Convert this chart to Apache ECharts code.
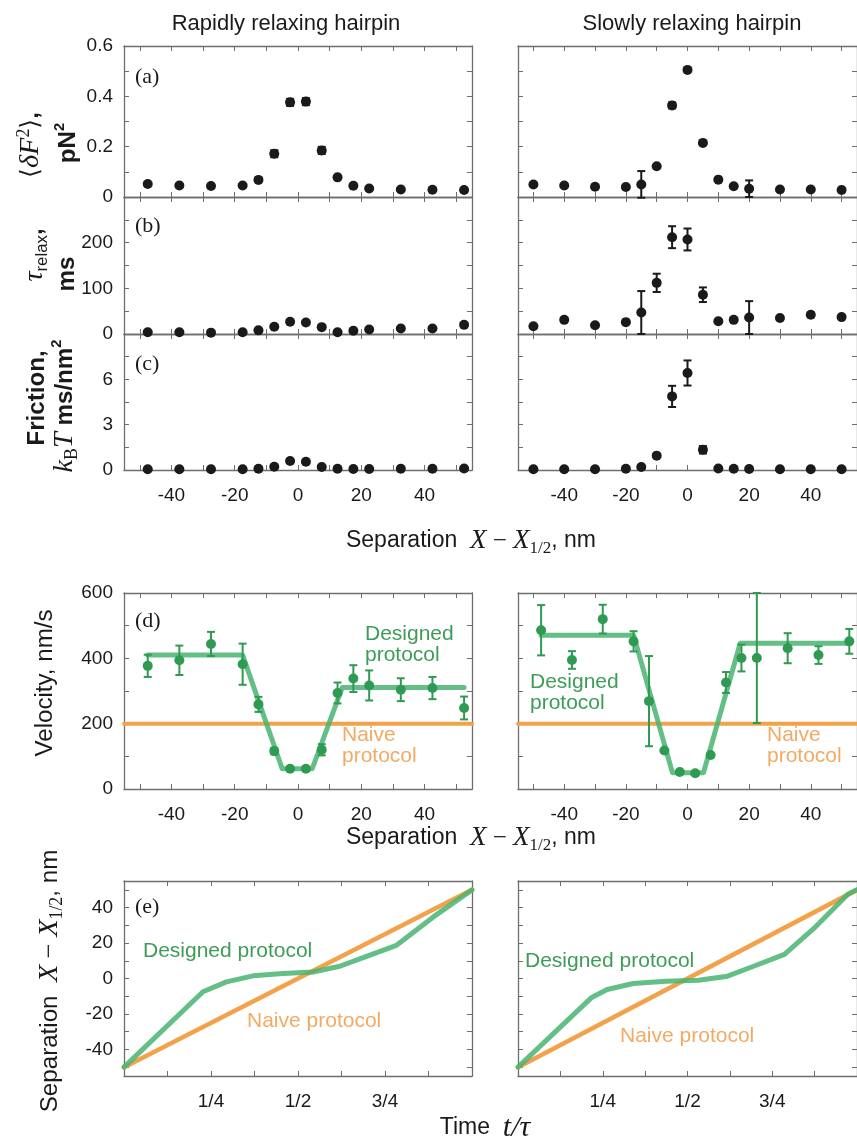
<!DOCTYPE html>
<html>
<head>
<meta charset="utf-8">
<script src="https://cdn.jsdelivr.net/npm/echarts@6.0.0/dist/echarts.min.js"></script>
<style>
  html, body { margin: 0; padding: 0; background: #fff; }
  #chart { width: 857px; height: 1143px; }
</style>
</head>
<body>
<div id="chart"></div>
<script>
// separation positions (nm)
const sepRapid = [-47.5, -37.5, -27.5, -17.5, -12.5, -7.5, -2.5, 2.5, 7.5, 12.5, 17.5, 22.5, 32.5, 42.5, 52.5];
const sepSlow = [-50, -40, -30, -20, -15, -10, -5, 0, 5, 10, 15, 20, 30, 40, 50];
const sepVelocity = [-47.5, -37.5, -27.5, -17.5, -12.5, -7.5, -2.5, 2.5, 7.5, 12.5, 17.5, 22.5, 32.5, 42.5, 52.5];

// (a) force variance, pN^2
const forceRapid = [0.052, 0.046, 0.044, 0.046, 0.068, 0.172, 0.376, 0.379, 0.185, 0.078, 0.045, 0.034, 0.030, 0.029, 0.028];
const forceRapidErr = [0, 0, 0, 0, 0, 0.014, 0.014, 0.014, 0.014, 0, 0, 0, 0, 0, 0];
const forceSlow = [0.050, 0.046, 0.041, 0.040, 0.050, 0.122, 0.364, 0.505, 0.215, 0.069, 0.043, 0.033, 0.030, 0.030, 0.028];
const forceSlowErr = [0, 0, 0, 0, 0.053, 0, 0.012, 0, 0, 0, 0, 0.033, 0, 0, 0];

// (b) relaxation time, ms
const tauRapid = [4, 4, 3, 4, 8, 16, 27, 25, 15, 4, 7, 10, 12, 12, 20];
const tauSlow = [17, 31, 19, 26, 47, 112, 212, 207, 86, 28, 31, 36, 35, 42, 37];
const tauSlowErr = [0, 0, 0, 0, 47, 20, 24, 24, 16, 0, 0, 36, 0, 0, 0];

// (c) friction, kBT ms/nm^2
const frictionRapid = [0.05, 0.05, 0.05, 0.05, 0.08, 0.22, 0.6, 0.55, 0.2, 0.08, 0.07, 0.07, 0.08, 0.08, 0.1];
const frictionSlow = [0.05, 0.05, 0.05, 0.08, 0.2, 0.95, 4.87, 6.42, 1.34, 0.1, 0.08, 0.07, 0.05, 0.05, 0.05];
const frictionSlowErr = [0, 0, 0, 0, 0, 0, 0.7, 0.83, 0.25, 0, 0, 0, 0, 0, 0];

// (d) velocity, nm/s
const velRapid = [377, 394, 444, 382, 259, 116, 62, 62, 120, 294, 338, 317, 304, 309, 248];
const velRapidErr = [34, 45, 37, 63, 23, 10, 0, 0, 17, 32, 41, 46, 35, 34, 35];
const velSlow = [486, 395, 520, 452, 269, 118, 52, 48, 104, 326, 401, 401, 431, 410, 452];
const velSlowErr = [77, 27, 44, 31, 138, 0, 0, 0, 0, 32, 41, 199, 46, 27, 38];
const velFitRapid = [[-47.5, 410], [-17.5, 410], [-5, 62], [4.5, 62], [14, 311], [52.5, 311]];
const velFitSlow = [[-47.5, 471], [-17.5, 471], [-4.9, 50], [5.2, 50], [17.1, 446], [52.5, 446]];
const velNaive = [[-55, 200], [55, 200]];

// (e) separation vs time
const timeDesignedRapid = [[0, -50], [0.227, -7.5], [0.294, -1.9], [0.371, 1.5], [0.457, 2.8], [0.543, 3.7],
  [0.62, 6.9], [0.697, 12.5], [0.783, 18.7], [0.888, 34.6], [1, 50]];
const timeDesignedSlow = [[0, -50], [0.216, -10.9], [0.263, -6.2], [0.34, -2.8], [0.436, -1.5], [0.532, -1.0],
  [0.618, 1.3], [0.695, 6.9], [0.786, 13.6], [0.877, 29], [0.974, 47.7], [1, 50]];
const timeNaive = [[0, -50], [1, 50]];

// ticks and labels
const sepTicks = [-50, -40, -30, -20, -10, 0, 10, 20, 30, 40, 50];
const sepLabels = [-40, -20, 0, 20, 40];
const forceTicks = [0, 0.1, 0.2, 0.3, 0.4, 0.5, 0.6];
const forceLabels = [0, 0.2, 0.4, 0.6];
const tauTicks = [0, 50, 100, 150, 200, 250, 300];
const tauLabels = [0, 100, 200];
const frictionTicks = [0, 1.5, 3, 4.5, 6, 7.5, 9];
const frictionLabels = [0, 3, 6];
const velTicks = [0, 100, 200, 300, 400, 500, 600];
const velLabels = [0, 200, 400, 600];
const timeTicks = [0, 0.125, 0.25, 0.375, 0.5, 0.625, 0.75, 0.875, 1];
const timeLabels = [0.25, 0.5, 0.75];
const timeLabelText = ['1/4', '1/2', '3/4'];

const sans = '"Liberation Sans", Arial, Helvetica, sans-serif';
const serif = '"Liberation Serif", "Times New Roman", "DejaVu Serif", serif';
const ink = '#1a1a1a';
const axisGray = '#6e6e6e';
const green = '#2f9b52';
const fitGreen = 'rgba(72, 180, 112, 0.85)';
const orange = '#f3a24c';
const greenText = '#3d9d57';
const orangeText = '#f2aa64';

const chart = echarts.init(document.getElementById('chart'), null, { renderer: 'canvas' });

const grids = [
  { left: 124, top: 46, width: 348, height: 151 },  // a rapid
  { left: 124, top: 197, width: 348, height: 137 }, // b rapid
  { left: 124, top: 334, width: 348, height: 136 }, // c rapid
  { left: 518, top: 46, width: 348, height: 151 },  // a slow
  { left: 518, top: 197, width: 348, height: 137 }, // b slow
  { left: 518, top: 334, width: 348, height: 136 }, // c slow
  { left: 124, top: 593, width: 348, height: 196 }, // d rapid
  { left: 518, top: 593, width: 348, height: 196 }, // d slow
  { left: 124, top: 881, width: 348, height: 195 }, // e rapid
  { left: 518, top: 881, width: 348, height: 195 }, // e slow
];

const sepAxis = { min: -55, max: 55, ticks: sepTicks, labels: sepLabels };
const timeAxis = { min: 0, max: 1, ticks: timeTicks, labels: timeLabels,
  fmt: (v) => timeLabelText[timeLabels.indexOf(v)] || '' };
const panels = [
  { x: sepAxis, y: { min: 0, max: 0.6, ticks: forceTicks, labels: forceLabels }, xl: false, yl: true },
  { x: sepAxis, y: { min: 0, max: 300, ticks: tauTicks, labels: tauLabels }, xl: false, yl: true },
  { x: sepAxis, y: { min: 0, max: 9, ticks: frictionTicks, labels: frictionLabels }, xl: true, yl: true },
  { x: sepAxis, y: { min: 0, max: 0.6, ticks: forceTicks, labels: forceLabels }, xl: false, yl: false },
  { x: sepAxis, y: { min: 0, max: 300, ticks: tauTicks, labels: tauLabels }, xl: false, yl: false },
  { x: sepAxis, y: { min: 0, max: 9, ticks: frictionTicks, labels: frictionLabels }, xl: true, yl: false },
  { x: sepAxis, y: { min: 0, max: 600, ticks: velTicks, labels: velLabels }, xl: true, yl: true },
  { x: sepAxis, y: { min: 0, max: 600, ticks: velTicks, labels: velLabels }, xl: true, yl: false },
  { x: timeAxis, y: { min: -55, max: 55, ticks: sepTicks, labels: sepLabels }, xl: true, yl: true },
  { x: timeAxis, y: { min: -55, max: 55, ticks: sepTicks, labels: sepLabels }, xl: true, yl: false },
];

function axis(grid, spec, position, withLabels) {
  return {
    type: 'value', gridIndex: grid, position,
    min: spec.min, max: spec.max,
    axisLine: { show: true, onZero: false, lineStyle: { color: axisGray, width: 1.3 } },
    axisTick: { show: true, inside: true, length: 5, customValues: spec.ticks, lineStyle: { color: axisGray, width: 1 } },
    axisLabel: {
      show: withLabels, customValues: spec.labels, margin: 11,
      fontFamily: sans, fontSize: 19, color: ink, formatter: spec.fmt,
    },
    splitLine: { show: false },
  };
}

const xAxis = [];
const yAxis = [];
panels.forEach((p, i) => {
  xAxis.push(axis(i, p.x, 'bottom', p.xl), axis(i, p.x, 'top', false));
  yAxis.push(axis(i, p.y, 'left', p.yl), axis(i, p.y, 'right', false));
});
xAxis.forEach((a) => { if (a.position === 'bottom') a.axisLabel.margin = 16; });

function dots(grid, xs, ys, color, size) {
  return {
    type: 'scatter', xAxisIndex: grid * 2, yAxisIndex: grid * 2,
    data: xs.map((x, i) => [x, ys[i]]),
    symbolSize: size, itemStyle: { color, opacity: 1 }, z: 5, silent: true,
  };
}

function errorBars(grid, xs, ys, errs, color) {
  const data = [];
  xs.forEach((x, i) => {
    if (errs[i] > 0) data.push([x, ys[i] - errs[i], ys[i] + errs[i]]);
  });
  return {
    type: 'custom', xAxisIndex: grid * 2, yAxisIndex: grid * 2, data, z: 4, silent: true,
    renderItem(params, api) {
      const lo = api.coord([api.value(0), api.value(1)]);
      const hi = api.coord([api.value(0), api.value(2)]);
      const cap = 4;
      const st = { stroke: color, lineWidth: 2 };
      return {
        type: 'group',
        children: [
          { type: 'line', shape: { x1: lo[0], y1: lo[1], x2: hi[0], y2: hi[1] }, style: st },
          { type: 'line', shape: { x1: lo[0] - cap, y1: lo[1], x2: lo[0] + cap, y2: lo[1] }, style: st },
          { type: 'line', shape: { x1: hi[0] - cap, y1: hi[1], x2: hi[0] + cap, y2: hi[1] }, style: st },
        ],
      };
    },
  };
}

function curve(grid, pts, color, width, z) {
  return {
    type: 'line', xAxisIndex: grid * 2, yAxisIndex: grid * 2, data: pts,
    showSymbol: false, symbol: 'none', lineStyle: { color, width, cap: 'round', join: 'round' },
    z, silent: true,
  };
}

const series = [
  errorBars(0, sepRapid, forceRapid, forceRapidErr, ink),
  dots(0, sepRapid, forceRapid, ink, 10),
  dots(1, sepRapid, tauRapid, ink, 10),
  dots(2, sepRapid, frictionRapid, ink, 10),
  errorBars(3, sepSlow, forceSlow, forceSlowErr, ink),
  dots(3, sepSlow, forceSlow, ink, 10),
  errorBars(4, sepSlow, tauSlow, tauSlowErr, ink),
  dots(4, sepSlow, tauSlow, ink, 10),
  errorBars(5, sepSlow, frictionSlow, frictionSlowErr, ink),
  dots(5, sepSlow, frictionSlow, ink, 10),
  // (d)
  curve(6, velNaive, orange, 4, 2),
  curve(6, velFitRapid, fitGreen, 5, 3),
  errorBars(6, sepVelocity, velRapid, velRapidErr, green),
  dots(6, sepVelocity, velRapid, green, 10),
  curve(7, velNaive, orange, 4, 2),
  curve(7, velFitSlow, fitGreen, 5, 3),
  errorBars(7, sepVelocity, velSlow, velSlowErr, green),
  dots(7, sepVelocity, velSlow, green, 10),
  // (e)
  curve(8, timeNaive, orange, 4.5, 2),
  curve(8, timeDesignedRapid, fitGreen, 5, 3),
  curve(9, timeNaive, orange, 4.5, 2),
  curve(9, timeDesignedSlow, fitGreen, 5, 3),
];

function richSet(k) {
  return {
    t: { fontFamily: sans, fontSize: 23 * k, fill: ink, lineHeight: 32 },
    b: { fontFamily: sans, fontSize: 23 * k, fontWeight: 'bold', fill: ink, lineHeight: 32 },
    m: { fontFamily: serif, fontSize: 25 * k, fill: ink, lineHeight: 32 },
    ang: { fontFamily: '"DejaVu Serif", serif', fontSize: 24 * k, fill: ink, lineHeight: 32 },
    mi: { fontFamily: serif, fontSize: 27 * k, fontStyle: 'italic', fill: ink, lineHeight: 32 },
    mt: { fontFamily: serif, fontSize: 30, fontStyle: 'italic', fill: ink, lineHeight: 32 },
    sup: { fontFamily: serif, fontSize: 17 * k, fill: ink, verticalAlign: 'top', lineHeight: 17 },
    bsup: { fontFamily: sans, fontSize: 14 * k, fontWeight: 'bold', fill: ink, verticalAlign: 'top', lineHeight: 16 },
    msub: { fontFamily: serif, fontSize: 17 * k, fill: ink, verticalAlign: 'bottom', lineHeight: 17 },
    sub: { fontFamily: sans, fontSize: 16 * k, fill: ink, verticalAlign: 'bottom', lineHeight: 16 },
  };
}
const richX = richSet(1);
const richY = richSet(1.05);

function label(x, y, text, opts) {
  const o = opts || {};
  return {
    type: 'text', x, y, rotation: o.rot ? Math.PI / 2 : 0, z: 10, silent: true,
    style: Object.assign({
      text, rich: o.rot ? richY : richX, align: o.align || 'center', verticalAlign: 'middle',
      fontFamily: sans, fontSize: 22, fill: ink,
    }, o.style || {}),
  };
}

const sepTitle = '{t|Separation  }{mi|X}{m| − }{mi|X}{msub|1/2}{t|, nm}';
const serifPanel = { fontFamily: serif, fontSize: 22, fill: ink };
const greenStyle = { fill: greenText, fontSize: 21, lineHeight: 21 };
const orangeStyle = { fill: orangeText, fontSize: 21, lineHeight: 21 };

const graphics = [
  label(286, 24, 'Rapidly relaxing hairpin'),
  label(692, 24, 'Slowly relaxing hairpin'),
  // y axis names
  label(31, 145, '{ang|⟨}{mi|δF}{sup|2}{ang|⟩}{b|,}', { rot: true }),
  label(68, 143, '{b|pN}{bsup|2}', { rot: true }),
  label(35, 255, '{mi|τ}{sub|relax}{b|,}', { rot: true }),
  label(67, 274, '{b|ms}', { rot: true }),
  label(37, 398, '{b|Friction,}', { rot: true }),
  label(65, 406, '{mi|k}{msub|B}{mi|T}{b| ms/nm}{bsup|2}', { rot: true }),
  label(45, 683, '{t|Velocity, nm/s}', { rot: true }),
  label(50, 981, sepTitle, { rot: true }),
  // x axis names
  label(471, 541, sepTitle),
  label(471, 838, sepTitle),
  label(485, 1128, '{t|Time  }{mt|t/τ}'),
  // panel letters
  label(135, 77, '(a)', { align: 'left', style: serifPanel }),
  label(135, 226, '(b)', { align: 'left', style: serifPanel }),
  label(135, 364, '(c)', { align: 'left', style: serifPanel }),
  label(135, 621, '(d)', { align: 'left', style: serifPanel }),
  label(135, 907, '(e)', { align: 'left', style: serifPanel }),
  // protocol annotations
  label(365, 645, 'Designed\nprotocol', { align: 'left', style: greenStyle }),
  label(342, 746, 'Naive\nprotocol', { align: 'left', style: orangeStyle }),
  label(530, 693, 'Designed\nprotocol', { align: 'left', style: greenStyle }),
  label(767, 746, 'Naive\nprotocol', { align: 'left', style: orangeStyle }),
  label(143, 951, 'Designed protocol', { align: 'left', style: greenStyle }),
  label(247, 1021, 'Naive protocol', { align: 'left', style: orangeStyle }),
  label(525, 961, 'Designed protocol', { align: 'left', style: greenStyle }),
  label(620, 1036, 'Naive protocol', { align: 'left', style: orangeStyle }),
];

chart.setOption({
  animation: false,
  backgroundColor: '#fff',
  grid: grids,
  xAxis,
  yAxis,
  series,
  graphic: graphics,
});
</script>
</body>
</html>
